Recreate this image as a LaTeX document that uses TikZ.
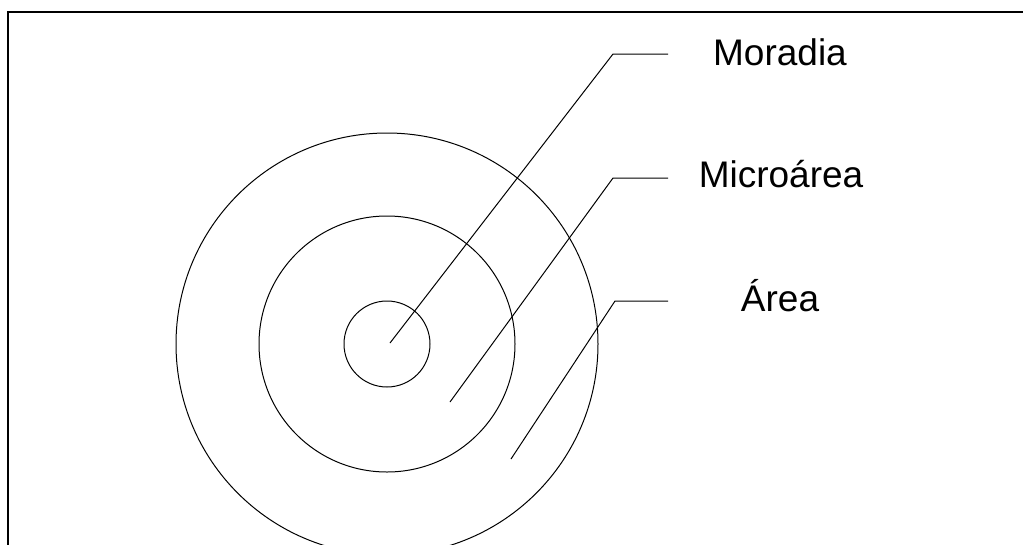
\documentclass[tikz,border=0pt]{standalone}
\usepackage{fontspec}
\setmainfont{Liberation Sans}
\usetikzlibrary{positioning}
\tikzset{
  ring/.style={draw, line width=1pt},
  leader/.style={draw, line width=1pt},
  frameline/.style={draw, line width=2pt},
  rotulo/.style={anchor=base, inner sep=0pt, font=\fontsize{37}{44}\selectfont}
}

\begin{document}
\begin{tikzpicture}[x=1pt,y=-1pt]
  \useasboundingbox (0,0) rectangle (1023,544);
  \clip (0,0) rectangle (1023,544);
  % moldura (cortada a direita e em baixo)
  \draw[frameline] (8,560) -- (8,11.5) -- (1040,11.5);
  % circulos
  \draw[ring] (387,344) circle[radius=43pt];
  \draw[ring] (387,344) circle[radius=128pt];
  \draw[ring] (387,344) circle[radius=211pt];
  % rotulos
  \node[rotulo] (moradia) at (780,65) {Moradia};
  \node[rotulo] (microarea) at (781,187) {Microárea};
  \node[rotulo] (area) at (780,311) {Área};
  % pontos das linhas de chamada
  \coordinate (moradiaPt) at (390,343);
  \coordinate (moradiaKnee) at (613,54);
  \coordinate (moradiaEnd) at (668,54);
  \coordinate (microareaPt) at (450,402);
  \coordinate (microareaKnee) at (613,178);
  \coordinate (microareaEnd) at (668,178);
  \coordinate (areaPt) at (511,459);
  \coordinate (areaKnee) at (615,301);
  \coordinate (areaEnd) at (668,301);
  \draw[leader] (moradiaPt) -- (moradiaKnee) -- (moradiaEnd);
  \draw[leader] (microareaPt) -- (microareaKnee) -- (microareaEnd);
  \draw[leader] (areaPt) -- (areaKnee) -- (areaEnd);
\end{tikzpicture}
\end{document}
